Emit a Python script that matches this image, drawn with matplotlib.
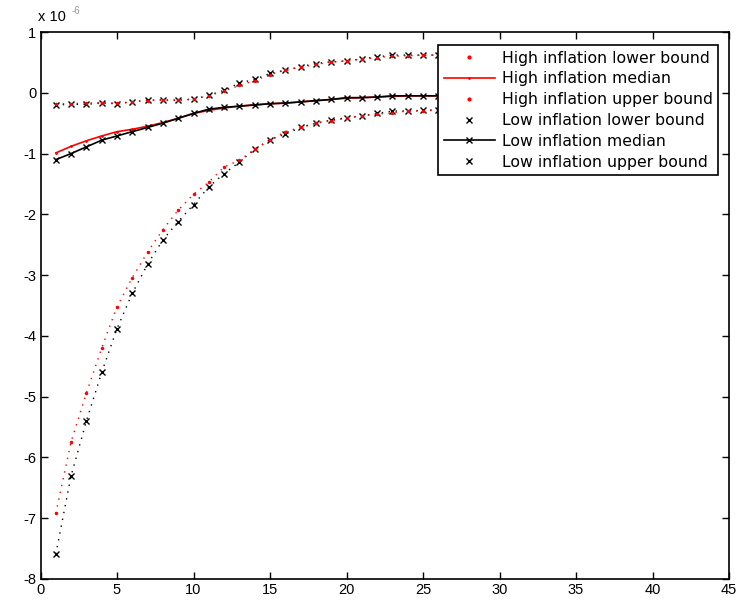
import matplotlib
matplotlib.use("Agg")
import matplotlib.pyplot as plt
from matplotlib.lines import Line2D
import numpy as np

plt.rcParams['font.family'] = ['Liberation Sans', 'DejaVu Sans']

horizon = list(range(1, 41))

high_lower = [-6.92, -5.74, -4.94, -4.20, -3.52, -3.04, -2.62, -2.25, -1.93, -1.67,
              -1.47, -1.22, -1.11, -0.93, -0.78, -0.64, -0.57, -0.50, -0.46, -0.42,
              -0.38, -0.35, -0.33, -0.30, -0.30, -0.28, -0.27, -0.26, -0.25, -0.24,
              -0.23, -0.22, -0.21, -0.20, -0.20, -0.19, -0.19, -0.18, -0.18, -0.18]
high_median = [-0.99, -0.88, -0.79, -0.71, -0.64, -0.60, -0.55, -0.49, -0.42, -0.34,
               -0.29, -0.25, -0.22, -0.20, -0.18, -0.17, -0.15, -0.13, -0.11, -0.09,
               -0.08, -0.07, -0.06, -0.05, -0.05, -0.05, -0.04, -0.04, -0.04, -0.04,
               -0.03, -0.03, -0.03, -0.03, -0.03, -0.03, -0.02, -0.02, -0.02, -0.02]
high_upper = [-0.18, -0.18, -0.17, -0.16, -0.17, -0.15, -0.13, -0.12, -0.12, -0.10,
              -0.05, 0.03, 0.12, 0.20, 0.30, 0.37, 0.42, 0.47, 0.50, 0.53,
              0.55, 0.58, 0.60, 0.61, 0.62, 0.62, 0.62, 0.62, 0.62, 0.61,
              0.61, 0.60, 0.60, 0.59, 0.58, 0.58, 0.57, 0.56, 0.56, 0.55]
low_lower = [-7.59, -6.30, -5.40, -4.60, -3.88, -3.30, -2.82, -2.42, -2.12, -1.84,
             -1.55, -1.33, -1.14, -0.93, -0.77, -0.68, -0.57, -0.50, -0.45, -0.41,
             -0.38, -0.34, -0.30, -0.30, -0.29, -0.28, -0.27, -0.26, -0.25, -0.24,
             -0.23, -0.22, -0.21, -0.20, -0.20, -0.19, -0.19, -0.18, -0.18, -0.18]
low_median = [-1.10, -1.00, -0.89, -0.78, -0.71, -0.64, -0.57, -0.50, -0.42, -0.34,
              -0.27, -0.24, -0.22, -0.20, -0.18, -0.17, -0.15, -0.13, -0.11, -0.08,
              -0.08, -0.07, -0.05, -0.05, -0.05, -0.05, -0.04, -0.04, -0.04, -0.04,
              -0.03, -0.03, -0.03, -0.03, -0.03, -0.03, -0.02, -0.02, -0.02, -0.02]
low_upper = [-0.20, -0.19, -0.19, -0.17, -0.18, -0.15, -0.12, -0.12, -0.12, -0.11,
             -0.04, 0.04, 0.16, 0.22, 0.32, 0.37, 0.43, 0.48, 0.51, 0.52,
             0.56, 0.59, 0.62, 0.62, 0.62, 0.62, 0.62, 0.62, 0.62, 0.61,
             0.61, 0.60, 0.60, 0.59, 0.58, 0.58, 0.57, 0.56, 0.56, 0.55]

labels = ["High inflation lower bound", "High inflation median", "High inflation upper bound",
          "Low inflation lower bound", "Low inflation median", "Low inflation upper bound"]

x_ticks = [0, 5, 10, 15, 20, 25, 30, 35, 40, 45]
y_ticks = [1, 0, -1, -2, -3, -4, -5, -6, -7, -8]

scale = 1e-6

fig = plt.figure(figsize=(7.44, 6.05), dpi=100)
ax = fig.add_axes([40.5 / 744, 1 - 579 / 605, (729 - 40.5) / 744, (579 - 32) / 605])

x = np.array(horizon)
dot_ls = (0, (1, 4))

ax.plot(x, np.array(low_lower) * scale, color='black', linestyle=dot_ls, lw=1,
        marker='x', ms=5, mew=1)
ax.plot(x, np.array(low_upper) * scale, color='black', linestyle=dot_ls, lw=1,
        marker='x', ms=5, mew=1)
ax.plot(x, np.array(high_lower) * scale, color='red', linestyle=dot_ls, lw=1,
        marker='.', ms=3)
ax.plot(x, np.array(high_upper) * scale, color='red', linestyle=dot_ls, lw=1,
        marker='.', ms=3)
ax.plot(x, np.array(high_median) * scale, color='red', linestyle='-', lw=1.2,
        marker='.', ms=2)
ax.plot(x, np.array(low_median) * scale, color='black', linestyle='-', lw=1.2,
        marker='x', ms=5, mew=1)

ax.set_xlim(0, 45)
ax.set_ylim(-8 * scale, 1 * scale)
ax.set_xticks(x_ticks)
ax.set_xticklabels([str(t) for t in x_ticks])
ax.set_yticks([t * scale for t in y_ticks])
ax.set_yticklabels([str(t) for t in y_ticks])
ax.tick_params(direction='in', length=5, width=1, top=True, right=True,
               labelsize=10.5, pad=3, colors='black')
for sp in ax.spines.values():
    sp.set_linewidth(1.2)

fig.text(38 / 744, 1 - 17 / 605, "x 10", fontsize=10.5, ha='left', va='center')
fig.text(72 / 744, 1 - 11 / 605, "-6", fontsize=7, ha='left', va='center', color='#999999')

handles = [
    Line2D([], [], color='red', linestyle='none', marker='.', ms=4),
    Line2D([], [], color='red', linestyle='-', lw=1.2, marker='.', ms=2),
    Line2D([], [], color='red', linestyle='none', marker='.', ms=4),
    Line2D([], [], color='black', linestyle='none', marker='x', ms=5, mew=1),
    Line2D([], [], color='black', linestyle='-', lw=1.2, marker='x', ms=5, mew=1),
    Line2D([], [], color='black', linestyle='none', marker='x', ms=5, mew=1),
]
leg = ax.legend(handles, labels, loc='upper right', bbox_to_anchor=(0.984, 0.976),
                borderaxespad=0, frameon=True, fancybox=False,
                prop={'family': 'DejaVu Sans', 'size': 11.3},
                edgecolor='black', framealpha=1, handlelength=3.3, handletextpad=0.4,
                labelspacing=0.37, borderpad=0.35, markerscale=1)
leg.get_frame().set_linewidth(1.2)

fig.savefig("out.png", dpi=100)
